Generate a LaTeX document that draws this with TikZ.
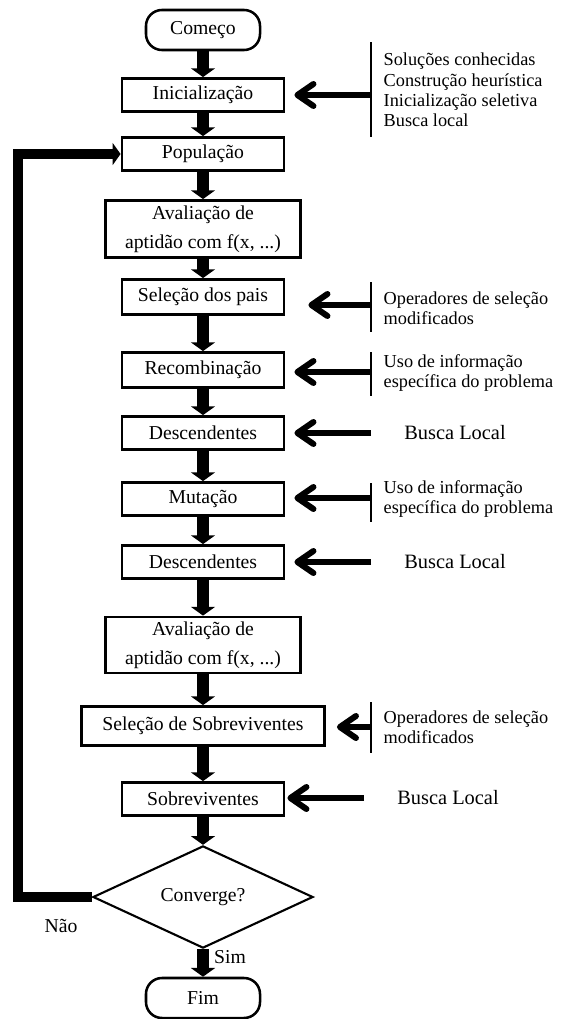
\documentclass[tikz,border=0pt]{standalone}
\usepackage{fontspec}
\setmainfont{Liberation Serif}
\usetikzlibrary{shapes.geometric}
\usetikzlibrary{arrows.meta}
\usetikzlibrary{math}

\begin{document}
\begin{tikzpicture}[x=0.025cm, y=-0.025cm,
    font=\fontsize{14}{20.5}\selectfont,
    stepbox/.style={draw, line width=2pt, minimum width=4.05cm, minimum height=0.825cm, inner sep=2pt, align=center},
    endbox/.style={draw, line width=1.8pt, rounded corners=0.4cm, minimum width=2.85cm, minimum height=1cm},
    test/.style={draw, diamond, line width=1.5pt, minimum width=5.5cm, minimum height=2.375cm, inner sep=0pt},
    flow/.style={line width=0.3cm, -{Triangle[length=0.22cm, width=0.6cm]}},
    back/.style={line width=0.26cm, -{Triangle[length=0.2cm, width=0.55cm]}},
    side/.style={line width=0.15cm, -{Straight Barb[length=0.4cm, width=0.55cm, round]}},
    note/.style={anchor=west, align=left, inner sep=1pt, font=\fontsize{13}{14.5}\selectfont},
    bar/.style={line width=1.5pt}]

    \useasboundingbox (0,0) rectangle (560,1019);

    \tikzmath{\colx = 203; \barx = 371; \txtx = 382;};

    % main column
    \node[endbox] (start) at (\colx,30) {Começo};
    \node[stepbox] (init) at (\colx,95) {Inicialização};
    \node[stepbox] (pop) at (\colx,154) {População};
    \node[stepbox, minimum width=4.875cm, minimum height=1.425cm] (eval1) at (\colx,229) {Avaliação de\\aptidão com f(x, ...)};
    \node[stepbox, minimum height=0.875cm] (par) at (\colx,297) {Seleção dos pais};
    \node[stepbox, minimum height=0.875cm] (rec) at (\colx,370) {Recombinação};
    \node[stepbox] (off1) at (\colx,433) {Descendentes};
    \node[stepbox] (mut) at (\colx,499) {Mutação};
    \node[stepbox] (off2) at (\colx,562) {Descendentes};
    \node[stepbox, minimum width=4.875cm, minimum height=1.4cm] (eval2) at (\colx,645) {Avaliação de\\aptidão com f(x, ...)};
    \node[stepbox, minimum width=6.075cm, minimum height=0.975cm] (sel) at (\colx,726) {Seleção de Sobreviventes};
    \node[stepbox] (surv) at (\colx,799) {Sobreviventes};
    \node[test] (conv) at (\colx,897) {Converge?};
    \node[endbox] (stop) at (\colx,998) {Fim};

    \foreach \a/\b in {start/init, init/pop, pop/eval1, eval1/par, par/rec, rec/off1, off1/mut, mut/off2, off2/eval2, eval2/sel, sel/surv, surv/conv, conv/stop}
        \draw[flow] (\a) -- (\b);

    % loop back to the population
    \coordinate (lside) at (18,0);
    \draw[back] (conv.west) -- (conv.west -| lside) -- (pop.west -| lside) -- (pop.west);
    \node at (61,926) {Não};
    \node at (230,957) {Sim};

    % notes on the right
    \draw[bar] (\barx,42) -- (\barx,137);
    \draw[bar] (\barx,282) -- (\barx,332);
    \draw[bar] (\barx,352) -- (\barx,396);
    \draw[bar] (\barx,483) -- (\barx,522);
    \draw[bar] (\barx,702) -- (\barx,753);

    \node[note] (n1) at (\txtx,90) {Soluções conhecidas\\Construção heurística\\Inicialização seletiva\\Busca local};
    \node[note] (n2) at (\txtx,308) {Operadores de seleção\\modificados};
    \node[note] (n3) at (\txtx,373) {Uso de informação\\específica do problema};
    \node[font=\fontsize{14.5}{16}\selectfont] (n4) at (455,433) {Busca Local};
    \node[note] (n5) at (\txtx,499) {Uso de informação\\específica do problema};
    \node[font=\fontsize{14.5}{16}\selectfont] (n6) at (455,562) {Busca Local};
    \node[note] (n7) at (\txtx,727) {Operadores de seleção\\modificados};
    \node[font=\fontsize{14.5}{16}\selectfont] (n8) at (448,798) {Busca Local};

    \coordinate (a1) at (\barx,95);
    \coordinate (a2) at (\barx,305);
    \coordinate (a3) at (\barx,372);
    \coordinate (a4) at (\barx,433);
    \coordinate (a5) at (\barx,498);
    \coordinate (a6) at (\barx,562);
    \coordinate (a7) at (\barx,727);
    \coordinate (a8) at (364,798);

    \draw[side, shorten >=0.225cm] (a1) -- (init.east |- a1);
    \draw[side, shorten >=0.575cm] (a2) -- (par.east |- a2);
    \draw[side, shorten >=0.225cm] (a3) -- (rec.east |- a3);
    \draw[side, shorten >=0.225cm] (a4) -- (off1.east |- a4);
    \draw[side, shorten >=0.225cm] (a5) -- (mut.east |- a5);
    \draw[side, shorten >=0.225cm] (a6) -- (off2.east |- a6);
    \draw[side, shorten >=0.275cm] (a7) -- (sel.east |- a7);
    \draw[side, shorten >=0.05cm] (a8) -- (surv.east |- a8);

\end{tikzpicture}
\end{document}
